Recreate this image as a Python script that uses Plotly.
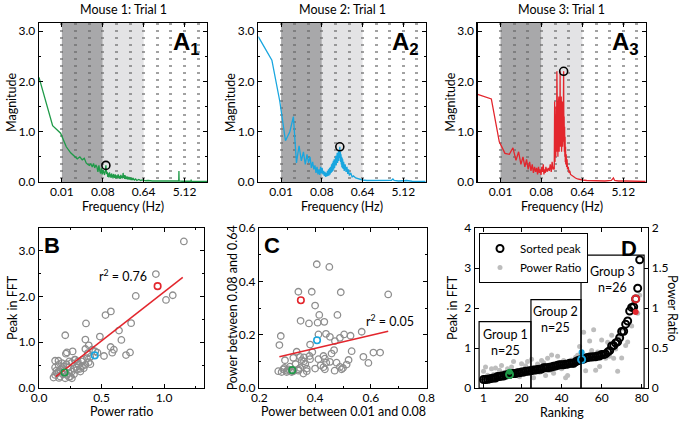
import numpy as np
import plotly.graph_objects as go

FONT = "Lato"
W, H = 684, 422

# ---------------- Panel A: FFT spectra (frequency in Hz, magnitude) ----------------
a1_freq = [0.003125, 0.00625, 0.009375, 0.0125, 0.015625, 0.01875, 0.021875, 0.025,
           0.028125, 0.03125, 0.034375, 0.0375, 0.040625, 0.04375, 0.046875, 0.05,
           0.053125, 0.05625, 0.059375, 0.0625, 0.065625, 0.06875, 0.071875, 0.075,
           0.078125, 0.08125, 0.084375, 0.0875, 0.090625, 0.09375, 0.096875, 0.1,
           0.103125, 0.10625, 0.109375, 0.1125, 0.115625, 0.11875, 0.121875, 0.125,
           0.128125, 0.13125, 0.134375, 0.1375, 0.140625, 0.14375, 0.146875, 0.15,
           0.15625, 0.1625, 0.16875, 0.175, 0.18125, 0.1875, 0.19375, 0.2,
           0.20625, 0.2125, 0.21875, 0.225, 0.23125, 0.2375, 0.24375, 0.25,
           0.2625, 0.275, 0.2875, 0.3, 0.3125, 0.325, 0.3375, 0.35,
           0.3625, 0.375, 0.4, 0.425, 0.45, 0.5, 0.55, 0.6,
           0.7, 0.8, 1.0, 1.3, 1.7, 2.2, 2.8, 3.5,
           3.8, 3.84, 3.88, 4.5, 5.5, 7.1, 7.15, 7.2,
           8.5, 10, 13, 16]
a1_mag = [2.08, 1.12, 0.97, 0.70, 0.58, 0.52, 0.46, 0.50,
          0.44, 0.47, 0.38, 0.35, 0.33, 0.36, 0.30, 0.37,
          0.28, 0.34, 0.30, 0.20, 0.33, 0.22, 0.17, 0.28,
          0.15, 0.24, 0.20, 0.14, 0.22, 0.33, 0.16, 0.20,
          0.10, 0.17, 0.09, 0.19, 0.11, 0.15, 0.08, 0.17,
          0.10, 0.14, 0.07, 0.16, 0.09, 0.13, 0.08, 0.15,
          0.07, 0.13, 0.08, 0.15, 0.07, 0.12, 0.06, 0.14,
          0.08, 0.12, 0.07, 0.18, 0.08, 0.14, 0.06, 0.13,
          0.06, 0.11, 0.05, 0.10, 0.05, 0.09, 0.04, 0.08,
          0.04, 0.07, 0.04, 0.06, 0.03, 0.05, 0.03, 0.04,
          0.025, 0.03, 0.02, 0.02, 0.02, 0.015, 0.018, 0.015,
          0.02, 0.22, 0.02, 0.015, 0.012, 0.015, 0.05, 0.012,
          0.012, 0.01, 0.01, 0.01]

a2_freq = [0.003125, 0.00625, 0.009375, 0.0125, 0.015625, 0.01875, 0.021875, 0.025,
           0.028125, 0.03125, 0.034375, 0.0375, 0.040625, 0.04375, 0.046875, 0.05,
           0.053125, 0.05625, 0.059375, 0.0625, 0.065625, 0.06875, 0.071875, 0.075,
           0.078125, 0.08125, 0.084375, 0.0875, 0.090625, 0.09375, 0.096875, 0.1,
           0.103125, 0.10625, 0.109375, 0.1125, 0.115625, 0.11875, 0.121875, 0.125,
           0.128125, 0.13125, 0.134375, 0.1375, 0.140625, 0.14375, 0.146875, 0.15,
           0.153125, 0.15625, 0.159375, 0.1625, 0.165625, 0.16875, 0.171875, 0.175,
           0.178125, 0.18125, 0.184375, 0.1875, 0.190625, 0.19375, 0.196875, 0.2,
           0.203125, 0.20625, 0.209375, 0.2125, 0.215625, 0.21875, 0.221875, 0.225,
           0.228125, 0.23125, 0.2375, 0.24375, 0.25, 0.2625, 0.275, 0.2875,
           0.3, 0.3125, 0.325, 0.35, 0.375, 0.4, 0.45, 0.5,
           0.55, 0.64, 0.8, 1.0, 1.3, 1.7, 2.2, 2.8,
           3.0, 3.2, 4.0, 5.0, 6.0, 8.0, 10, 13,
           16]
a2_mag = [2.89, 2.42, 1.60, 0.82, 1.00, 1.30, 0.38, 0.72,
          0.42, 0.60, 0.35, 0.55, 0.38, 0.50, 0.28, 0.40,
          0.25, 0.33, 0.18, 0.30, 0.15, 0.25, 0.14, 0.30,
          0.17, 0.28, 0.15, 0.22, 0.12, 0.20, 0.10, 0.18,
          0.11, 0.22, 0.12, 0.25, 0.13, 0.28, 0.15, 0.30,
          0.18, 0.35, 0.20, 0.38, 0.22, 0.42, 0.25, 0.45,
          0.28, 0.50, 0.30, 0.52, 0.33, 0.55, 0.36, 0.58,
          0.38, 0.60, 0.40, 0.62, 0.42, 0.65, 0.45, 0.70,
          0.48, 0.60, 0.40, 0.55, 0.35, 0.50, 0.30, 0.48,
          0.28, 0.45, 0.26, 0.40, 0.22, 0.35, 0.20, 0.30,
          0.16, 0.25, 0.13, 0.18, 0.10, 0.12, 0.08, 0.07,
          0.05, 0.04, 0.03, 0.03, 0.025, 0.02, 0.02, 0.035,
          0.06, 0.03, 0.02, 0.02, 0.03, 0.015, 0.015, 0.01,
          0.01]

a3_freq = [0.003125, 0.00625, 0.009375, 0.0125, 0.015625, 0.01875, 0.021875, 0.025,
           0.028125, 0.03125, 0.034375, 0.0375, 0.040625, 0.04375, 0.046875, 0.05,
           0.053125, 0.05625, 0.059375, 0.0625, 0.065625, 0.06875, 0.071875, 0.075,
           0.078125, 0.08125, 0.084375, 0.0875, 0.090625, 0.09375, 0.096875, 0.1,
           0.10625, 0.1125, 0.11875, 0.125, 0.13125, 0.1375, 0.14375, 0.15,
           0.153125, 0.15625, 0.159375, 0.1625, 0.165625, 0.16875, 0.171875, 0.175,
           0.178125, 0.18125, 0.184375, 0.1875, 0.190625, 0.19375, 0.196875, 0.2,
           0.203125, 0.20625, 0.209375, 0.2125, 0.215625, 0.21875, 0.221875, 0.225,
           0.228125, 0.23125, 0.234375, 0.2375, 0.240625, 0.24375, 0.246875, 0.25,
           0.253125, 0.25625, 0.259375, 0.2625, 0.265625, 0.26875, 0.271875, 0.275,
           0.28125, 0.2875, 0.29375, 0.3, 0.3125, 0.325, 0.3375, 0.35,
           0.375, 0.4, 0.45, 0.5, 0.55, 0.64, 0.8, 1.0,
           1.5, 2.0, 2.8, 3.1, 3.3, 4.0, 6.0, 9.0,
           12, 16]
a3_mag = [1.74, 1.65, 0.80, 0.57, 0.55, 0.68, 0.43, 0.60,
          0.35, 0.50, 0.30, 0.45, 0.25, 0.40, 0.22, 0.35,
          0.18, 0.30, 0.20, 0.28, 0.15, 0.30, 0.18, 0.25,
          0.14, 0.30, 0.20, 0.35, 0.15, 0.25, 0.18, 0.30,
          0.20, 0.28, 0.22, 0.35, 0.20, 0.40, 0.25, 0.30,
          0.25, 1.60, 0.40, 1.30, 0.50, 1.50, 0.60, 2.20,
          0.70, 1.60, 0.50, 1.50, 0.80, 1.70, 0.60, 1.40,
          0.90, 2.20, 0.70, 1.60, 1.00, 1.70, 0.60, 1.50,
          0.90, 1.60, 0.70, 1.50, 1.00, 1.60, 2.20, 0.80,
          1.30, 0.60, 1.10, 0.50, 0.90, 0.40, 0.70, 0.35,
          0.55, 0.30, 0.45, 0.25, 0.30, 0.18, 0.22, 0.15,
          0.13, 0.10, 0.08, 0.06, 0.05, 0.04, 0.03, 0.025,
          0.02, 0.02, 0.03, 0.08, 0.03, 0.02, 0.02, 0.015,
          0.015, 0.01]

a_peak_freq = [0.09375, 0.2, 0.246875]
a_peak_mag = [0.33, 0.70, 2.20]
a_titles = ["Mouse 1: Trial 1", "Mouse 2: Trial 1", "Mouse 3: Trial 1"]
freq_ticks = [0.01, 0.08, 0.64, 5.12]
freq_ticktext = ["0.01", "0.08", "0.64", "5.12"]
freq_minor = [0.02, 0.04, 0.16, 0.32, 1.28, 2.56, 10.24]
band_low = [0.01, 0.08]
band_high = [0.08, 0.64]

# ---------------- Panel B: power ratio vs FFT peak ----------------
b_ratio = [1.159, 0.935, 0.774, 1.070, 1.016, 0.532, 0.575, 0.376, 0.737, 0.640,
           0.210, 0.487, 0.371, 0.659, 0.398, 0.573, 0.599, 0.728, 0.696, 0.586,
           0.468, 0.371, 0.425, 0.223, 0.269, 0.215, 0.129, 0.156, 0.242, 0.290,
           0.384, 0.344, 0.398, 0.317, 0.156, 0.183, 0.129, 0.237, 0.277, 0.304,
           0.358, 0.371, 0.411, 0.263, 0.331, 0.156, 0.129, 0.116, 0.169, 0.223,
           0.250, 0.210, 0.142, 0.196, 0.344, 0.183, 0.263, 0.170, 0.200, 0.240,
           0.280, 0.300, 0.330, 0.190, 0.140, 0.220, 0.260, 0.310, 0.350, 0.410,
           0.450, 0.390, 0.520, 0.160, 0.240, 0.285]
b_peak = [3.206, 2.493, 2.015, 2.029, 1.926, 1.596, 1.676, 1.412, 1.419, 1.257,
          1.154, 1.125, 1.059, 1.051, 0.934, 0.897, 0.838, 0.779, 0.721, 0.772,
          0.772, 0.853, 0.838, 0.779, 0.801, 0.750, 0.596, 0.596, 0.581, 0.618,
          0.654, 0.581, 0.566, 0.507, 0.507, 0.434, 0.449, 0.449, 0.419, 0.397,
          0.434, 0.507, 0.522, 0.360, 0.360, 0.360, 0.287, 0.228, 0.250, 0.287,
          0.250, 0.213, 0.324, 0.471, 0.471, 0.544, 0.213, 0.400, 0.380, 0.330,
          0.300, 0.460, 0.420, 0.300, 0.380, 0.520, 0.550, 0.580, 0.620, 0.680,
          0.800, 0.760, 0.700, 0.220, 0.240, 0.620]
hl_ratio = [0.204, 0.446, 0.949]
hl_peak = [0.338, 0.713, 2.228]
hl_colors = ["#1f9a48", "#19a6df", "#e3262d"]
b_fit_x = [0.134, 1.15]
b_fit_y = [0.25, 2.42]

# ---------------- Panel C: power in bands ----------------
c_low = [0.406, 0.451, 0.340, 0.388, 0.492, 0.662, 0.400, 0.415, 0.480, 0.348,
         0.378, 0.409, 0.433, 0.277, 0.272, 0.412, 0.439, 0.453, 0.489, 0.504,
         0.527, 0.567, 0.382, 0.471, 0.334, 0.346, 0.352, 0.322, 0.292, 0.459,
         0.468, 0.531, 0.573, 0.609, 0.633, 0.591, 0.382, 0.412, 0.435, 0.453,
         0.477, 0.489, 0.513, 0.495, 0.430, 0.435, 0.400, 0.370, 0.346, 0.322,
         0.268, 0.286, 0.304, 0.316, 0.358, 0.340, 0.298, 0.370, 0.290, 0.310,
         0.330, 0.360, 0.380, 0.300, 0.340, 0.420, 0.440, 0.470, 0.500, 0.360,
         0.390, 0.430, 0.520, 0.280, 0.310, 0.365]
c_high = [0.464, 0.454, 0.361, 0.361, 0.359, 0.351, 0.309, 0.274, 0.274, 0.252,
          0.242, 0.245, 0.248, 0.195, 0.161, 0.201, 0.203, 0.192, 0.188, 0.201,
          0.196, 0.211, 0.163, 0.176, 0.136, 0.117, 0.104, 0.113, 0.104, 0.129,
          0.142, 0.138, 0.117, 0.133, 0.133, 0.094, 0.108, 0.108, 0.110, 0.098,
          0.095, 0.079, 0.088, 0.070, 0.078, 0.070, 0.073, 0.073, 0.075, 0.063,
          0.063, 0.070, 0.070, 0.060, 0.054, 0.065, 0.060, 0.063, 0.075, 0.080,
          0.090, 0.100, 0.120, 0.065, 0.070, 0.085, 0.095, 0.065, 0.075, 0.115,
          0.135, 0.120, 0.105, 0.060, 0.065, 0.090]
hl_low = [0.318, 0.407, 0.349]
hl_high = [0.067, 0.179, 0.329]
c_fit_x = [0.272, 0.662]
c_fit_y = [0.117, 0.213]

# ---------------- Panel D: groups ----------------
group_edges = [-1.2, 24.7, 49.7, 81.2]
group_tops = [1.66, 2.21, 3.32]
group_text = ["Group 1<br>n=25", "Group 2<br>n=25", "Group 3<br>n=26"]
group_text_y = [1.13, 1.71, 2.72]

# derived ranking (sorted peaks)
all_peak = np.array(b_peak + hl_peak)
all_ratio = np.array(b_ratio + hl_ratio)
order = np.argsort(all_peak, kind="stable")
sorted_peak = all_peak[order]
sorted_ratio = all_ratio[order]
ranking = np.arange(1, len(sorted_peak) + 1)
n_gray = len(b_peak)
is_hl = order >= n_gray
hl_rank = [int(np.where(order == n_gray + i)[0][0]) + 1 for i in range(3)]

# ---------------- geometry (reference pixels -> paper fractions) ----------------
def px(p):
    return p / W

def py(p):
    return 1 - p / H

def dx(a, b):
    return [px(a), px(b)]

def dy(top, bottom):
    return [py(bottom), py(top)]

A_X = [(39, 207), (258.3, 425.7), (477.7, 645.7)]
A_Y = (23, 182)
B_X = (39, 204)
C_X = (259.3, 426.7)
D_X = (475, 648)
BOT_Y = (228, 388)

GRID = "rgba(100,100,100,0.6)"
DARK = "#a8a8aa"
LIGHT = "#e3e3e5"
TICKFONT = dict(family=FONT, size=12, color="black")


def axis(domain, anchor, **kw):
    d = dict(domain=domain, anchor=anchor, showline=True, linecolor="black", linewidth=1.3,
             mirror="ticks", ticks="inside", ticklen=4, tickwidth=1, tickcolor="black",
             showgrid=False, zeroline=False, tickfont=TICKFONT, fixedrange=True,
             automargin=False)
    d.update(kw)
    return d


fig = go.Figure()
layout = dict(width=W, height=H, margin=dict(l=0, r=0, t=0, b=0),
              paper_bgcolor="white", plot_bgcolor="white",
              font=dict(family=FONT, size=12, color="black"))
shapes = []
annotations = []


def ann(text, x, y, size=12.5, angle=0, xanchor="center", yanchor="middle", family=FONT):
    annotations.append(dict(text=text, x=px(x), y=py(y), xref="paper", yref="paper",
                            showarrow=False, textangle=angle, xanchor=xanchor, yanchor=yanchor,
                            font=dict(family=family, size=size, color="black")))


# ---- Panel A ----
a_data = [(a1_freq, a1_mag, "#1f9a48"), (a2_freq, a2_mag, "#19a6df"), (a3_freq, a3_mag, "#e3262d")]
for i, (fx, my, col) in enumerate(a_data):
    k = i + 1
    xa, ya = f"x{k}" if k > 1 else "x", f"y{k}" if k > 1 else "y"
    xname, yname = f"xaxis{k}" if k > 1 else "xaxis", f"yaxis{k}" if k > 1 else "yaxis"
    layout[xname] = axis(dx(*A_X[i]), ya, type="log", range=[-2.505, 1.204], autorange=False,
                         tickvals=freq_ticks, ticktext=freq_ticktext, ticklabelstandoff=-2,
                         showgrid=True, gridcolor=GRID, gridwidth=3, griddash="2px,5px",
                         minor=dict(tickvals=freq_minor, showgrid=True, gridcolor=GRID,
                                    gridwidth=3, griddash="2px,5px", ticks=""))
    layout[yname] = axis(dy(*A_Y), xa, range=[0, 3.16], autorange=False, tickvals=[0, 1, 2, 3],
                         tickformat=".1f",
                         minor=dict(tickmode="linear", tick0=0, dtick=0.5, ticks="inside",
                                    ticklen=2, tickcolor="black"))
    shapes.append(dict(type="rect", xref=xa, yref=f"{ya} domain", x0=band_low[0], x1=band_low[1],
                       y0=0, y1=1, fillcolor=DARK, line=dict(width=0), layer="below"))
    shapes.append(dict(type="rect", xref=xa, yref=f"{ya} domain", x0=band_high[0], x1=band_high[1],
                       y0=0, y1=1, fillcolor=LIGHT, line=dict(width=0), layer="below"))
    fig.add_trace(go.Scatter(x=fx, y=my, mode="lines", line=dict(color=col, width=1.3),
                             xaxis=xa, yaxis=ya, showlegend=False, hoverinfo="skip"))
    fig.add_trace(go.Scatter(x=[a_peak_freq[i]], y=[a_peak_mag[i]], mode="markers",
                             marker=dict(symbol="circle-open", size=8, color="black",
                                         line=dict(width=1.6)),
                             xaxis=xa, yaxis=ya, showlegend=False, hoverinfo="skip"))
    cx = (A_X[i][0] + A_X[i][1]) / 2
    ann(a_titles[i], cx, 9)
    ann("Frequency (Hz)", cx, 206)
    ann("Magnitude", A_X[i][0] - 27, 102, angle=-90)
    ann(f"<b>A<sub>{k}</sub></b>", A_X[i][1] - 5, 26, size=24, xanchor="right", yanchor="top",
        family="Liberation Sans")

# ---- Panel B ----
layout["xaxis4"] = axis(dx(*B_X), "y4", range=[0, 1.32], tickvals=[0, 0.5, 1.0], tickformat=".1f",
                        ticklabelstandoff=-2,
                        minor=dict(tickmode="linear", tick0=0, dtick=0.25, ticks="inside",
                                   ticklen=2, tickcolor="black"))
layout["yaxis4"] = axis(dy(*BOT_Y), "x4", range=[0, 3.5], tickvals=[0, 1, 2, 3], tickformat=".1f",
                        minor=dict(tickmode="linear", tick0=0, dtick=0.5, ticks="inside",
                                   ticklen=2, tickcolor="black"))
fig.add_trace(go.Scatter(x=b_ratio, y=b_peak, mode="markers",
                         marker=dict(symbol="circle-open", size=6.5, color="#8e8e8e",
                                     line=dict(width=1.3)),
                         xaxis="x4", yaxis="y4", showlegend=False, hoverinfo="skip"))
fig.add_trace(go.Scatter(x=b_fit_x, y=b_fit_y, mode="lines", line=dict(color="#e3262d", width=1.5),
                         xaxis="x4", yaxis="y4", showlegend=False, hoverinfo="skip"))
fig.add_trace(go.Scatter(x=hl_ratio, y=hl_peak, mode="markers",
                         marker=dict(symbol="circle-open", size=6.5, color=hl_colors,
                                     line=dict(width=1.6)),
                         xaxis="x4", yaxis="y4", showlegend=False, hoverinfo="skip"))
annotations.append(dict(text="r<sup>2</sup> = 0.76", x=0.67, y=2.46, xref="x4", yref="y4",
                        showarrow=False, font=dict(family=FONT, size=12.5, color="black")))
ann("Peak in FFT", 12, 308, angle=-90)
ann("Power ratio", (B_X[0] + B_X[1]) / 2, 411)
ann("<b>B</b>", 42, 231, size=22, xanchor="left", yanchor="top", family="Liberation Sans")

# ---- Panel C ----
layout["xaxis5"] = axis(dx(*C_X), "y5", range=[0.2, 0.8], tickvals=[0.2, 0.4, 0.6, 0.8],
                        tickformat=".1f", ticklabelstandoff=-2,
                        minor=dict(tickmode="linear", tick0=0.2, dtick=0.1, ticks="inside",
                                   ticklen=2, tickcolor="black"))
layout["yaxis5"] = axis(dy(*BOT_Y), "x5", range=[0, 0.6], tickvals=[0, 0.2, 0.4, 0.6],
                        tickformat=".1f",
                        minor=dict(tickmode="linear", tick0=0, dtick=0.1, ticks="inside",
                                   ticklen=2, tickcolor="black"))
fig.add_trace(go.Scatter(x=c_low, y=c_high, mode="markers",
                         marker=dict(symbol="circle-open", size=6.5, color="#8e8e8e",
                                     line=dict(width=1.3)),
                         xaxis="x5", yaxis="y5", showlegend=False, hoverinfo="skip"))
fig.add_trace(go.Scatter(x=c_fit_x, y=c_fit_y, mode="lines", line=dict(color="#e3262d", width=1.5),
                         xaxis="x5", yaxis="y5", showlegend=False, hoverinfo="skip"))
fig.add_trace(go.Scatter(x=hl_low, y=hl_high, mode="markers",
                         marker=dict(symbol="circle-open", size=6.5, color=hl_colors,
                                     line=dict(width=1.6)),
                         xaxis="x5", yaxis="y5", showlegend=False, hoverinfo="skip"))
annotations.append(dict(text="r<sup>2</sup> = 0.05", x=0.67, y=0.252, xref="x5", yref="y5",
                        showarrow=False, font=dict(family=FONT, size=12.5, color="black")))
ann("Power between 0.08 and 0.64", C_X[0] - 27, 308, angle=-90)
ann("Power between 0.01 and 0.08", (C_X[0] + C_X[1]) / 2, 411)
ann("<b>C</b>", 262, 231, size=22, xanchor="left", yanchor="top", family="Liberation Sans")

# ---- Panel D ----
layout["xaxis6"] = axis(dx(*D_X), "y6", range=[-3.25, 83.15], tickvals=[1, 20, 40, 60, 80],
                        ticklabelstandoff=-2)
layout["yaxis6"] = axis(dy(*BOT_Y), "x6", side="right", mirror=False, range=[0, 2],
                        tickvals=[0, 0.5, 1, 1.5, 2], ticktext=["0", "0.5", "1", "1.5", "2"])
layout["yaxis7"] = axis(dy(*BOT_Y), "x6", side="left", mirror=False, overlaying="y6",
                        range=[0, 4], tickvals=[0, 1, 2, 3, 4])
gray_mask = ~is_hl
fig.add_trace(go.Scatter(x=ranking[gray_mask], y=sorted_ratio[gray_mask], mode="markers",
                         name="Power Ratio", legendrank=2,
                         marker=dict(symbol="circle", size=5, color="#bdbdbd"),
                         xaxis="x6", yaxis="y6", hoverinfo="skip"))
fig.add_trace(go.Scatter(x=ranking, y=sorted_peak, mode="markers", name="Sorted peak", legendrank=1,
                         marker=dict(symbol="circle-open", size=7, color="black", line=dict(width=2)),
                         xaxis="x6", yaxis="y7", hoverinfo="skip"))
fig.add_trace(go.Scatter(x=hl_rank, y=hl_peak, mode="markers", showlegend=False,
                         marker=dict(symbol="circle-open", size=7, color=hl_colors, line=dict(width=2)),
                         xaxis="x6", yaxis="y7", hoverinfo="skip"))
fig.add_trace(go.Scatter(x=hl_rank, y=[r * 2 for r in hl_ratio], mode="markers", showlegend=False,
                         marker=dict(symbol="circle", size=6, color=hl_colors),
                         xaxis="x6", yaxis="y7", hoverinfo="skip"))
for g in range(3):
    shapes.append(dict(type="rect", xref="x6", yref="y7", x0=group_edges[g], x1=group_edges[g + 1],
                       y0=0, y1=group_tops[g], line=dict(color="black", width=1.2),
                       fillcolor="rgba(0,0,0,0)", layer="above"))
    annotations.append(dict(text=group_text[g], x=(group_edges[g] + group_edges[g + 1]) / 2,
                            y=group_text_y[g], xref="x6", yref="y7", showarrow=False,
                            font=dict(family=FONT, size=12.5, color="black")))
ann("Peak in FFT", 452, 308, angle=-90)
ann("Ranking", (D_X[0] + D_X[1]) / 2, 412)
ann("Power Ratio", 673, 308, angle=90)
ann("<b>D</b>", 639, 234, size=22, xanchor="right", yanchor="top", family="Liberation Sans")

layout["legend"] = dict(x=px(479), y=py(233), xanchor="left", yanchor="top",
                        bordercolor="black", borderwidth=1, bgcolor="white", itemwidth=30,
                        font=dict(family=FONT, size=11.5, color="black"), tracegroupgap=0)
layout["shapes"] = shapes
layout["annotations"] = annotations
fig.update_layout(**layout)
# remove the browser's default 8px body margin so the 684x422 figure fills the window exactly
fig.write_html("out.html", config={"displayModeBar": False, "staticPlot": True},
               post_script="document.body.style.margin='0';document.body.style.padding='0';")
